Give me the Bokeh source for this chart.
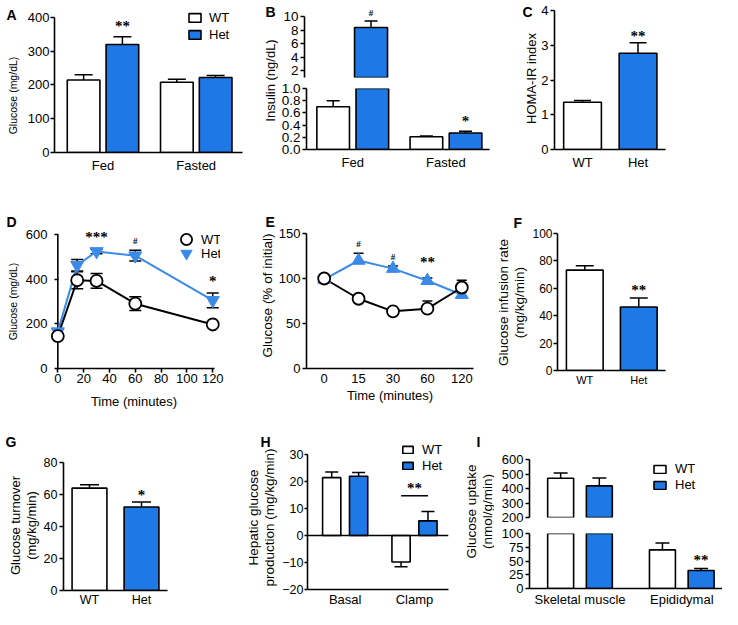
from bokeh.plotting import figure
from bokeh.models import (Range1d, FixedTicker, Whisker, TeeHead, ColumnDataSource, LabelSet, Label,
                          Legend, LegendItem, Span, NumeralTickFormatter)
from bokeh.layouts import row, column
from bokeh.embed import file_html
from bokeh.resources import INLINE
import math

FONT = "Liberation Sans"
BLUE = "#1E78E6"
LBLUE = "#3A8BE8"

# ---------------- data ----------------
a_groups = ["Fed", "Fasted"]
a_wt = [215, 208]
a_wt_err = [15, 9]
a_het = [320, 222]
a_het_err = [23, 6]
a_ticks = [0, 100, 200, 300, 400]

b_groups = ["Fed", "Fasted"]
b_wt = [0.70, 0.21]
b_wt_err = [0.10, 0.012]
b_het = [8.4, 0.27]
b_het_err = [0.95, 0.03]
b_top_ticks = [2, 4, 6, 8, 10]
b_bot_ticks = [0.0, 0.2, 0.4, 0.6, 0.8, 1.0]

c_groups = ["WT", "Het"]
c_vals = [1.36, 2.77]
c_err = [0.05, 0.30]
c_ticks = [0, 1, 2, 3, 4]

d_time = [0, 15, 30, 60, 120]
d_wt = [145, 395, 392, 290, 197]
d_wt_err = [10, 38, 33, 31, 8]
d_het = [165, 462, 524, 505, 305]
d_het_err = [10, 26, 10, 24, 33]
d_xticks = [0, 20, 40, 60, 80, 100, 120]
d_yticks = [0, 200, 400, 600]

e_time = ["0", "15", "30", "60", "120"]
e_wt = [100, 77.5, 63.5, 66.5, 90]
e_wt_err = [2, 2.5, 2.5, 8.5, 8]
e_het = [99, 120, 111, 97.5, 82]
e_het_err = [2, 8, 3, 3, 3]
e_yticks = [0, 50, 100, 150]

f_groups = ["WT", "Het"]
f_vals = [73.3, 46.3]
f_err = [3.1, 6.6]
f_ticks = [0, 20, 40, 60, 80, 100]

g_groups = ["WT", "Het"]
g_vals = [64.0, 52.2]
g_err = [2.1, 3.1]
g_ticks = [0, 20, 40, 60, 80]

h_groups = ["Basal", "Clamp"]
h_wt = [21.4, -9.8]
h_wt_err = [2.1, 1.8]
h_het = [21.9, 5.4]
h_het_err = [1.4, 3.5]
h_sig_line = 14.7
h_ticks = [-20, -10, 0, 10, 20, 30]

i_groups = ["Skeletal muscle", "Epididymal"]
i_wt = [471, 70.2]
i_wt_err = [36, 12.4]
i_het = [418, 32.6]
i_het_err = [55, 3.9]
i_top_ticks = [200, 300, 400, 500, 600]
i_bot_ticks = [0, 25, 50, 75, 100]


# ---------------- helpers ----------------
def no_align(p):
    try:
        p.frame_align = False
    except Exception:
        pass


def style_axis(ax, size="13px", tick_out=4, standoff=2):
    ax.axis_line_width = 1.6
    ax.axis_line_color = "black"
    ax.major_tick_line_width = 1.6
    ax.major_tick_line_color = "black"
    ax.major_tick_out = tick_out
    ax.major_tick_in = 0
    ax.minor_tick_line_color = None
    ax.major_label_text_font = FONT
    ax.major_label_text_font_size = size
    ax.major_label_text_color = "black"
    ax.major_label_standoff = standoff
    ax.axis_label_text_font = FONT
    ax.axis_label_text_font_style = "normal"
    ax.axis_label_text_color = "black"


def make_fig(w, h, xr, yr, mb, xaxis=True, yaxis=True):
    l, r, t, b = mb
    p = figure(width=w, height=h, x_range=Range1d(*xr), y_range=Range1d(*yr),
               output_backend="svg", toolbar_location=None,
               x_axis_location="below" if xaxis else None,
               y_axis_location="left" if yaxis else None,
               min_border_left=l, min_border_right=r, min_border_top=t, min_border_bottom=b)
    no_align(p)
    p.outline_line_color = None
    p.grid.visible = False
    for ax in p.axis:
        style_axis(ax)
    return p


def strip(w, h, letter_text, lx, ly, label_text, cx, cy, label_size):
    p = figure(width=w, height=h, x_range=Range1d(0, 1), y_range=Range1d(0, 1),
               output_backend="svg", toolbar_location=None,
               x_axis_location=None, y_axis_location=None, min_border=0)
    no_align(p)
    p.outline_line_color = None
    p.grid.visible = False
    p.add_layout(Label(x=lx, y=ly, x_units="screen", y_units="screen", text=letter_text,
                       text_font=FONT, text_font_size="14px", text_font_style="bold",
                       text_baseline="top", text_align="left", text_color="black"))
    p.add_layout(Label(x=cx, y=cy, x_units="screen", y_units="screen", text=label_text,
                       text_font=FONT, text_font_size=label_size, text_baseline="middle",
                       text_align="center", angle=math.pi / 2, text_color="black",
                       text_line_height=1.05))
    return p


def yaxis_setup(p, ticks, size="13px", fmt=None, bounds=None, standoff=2, tick_out=4):
    ax = p.yaxis[0]
    ax.ticker = FixedTicker(ticks=ticks)
    style_axis(ax, size=size, standoff=standoff, tick_out=tick_out)
    if fmt:
        ax.formatter = NumeralTickFormatter(format=fmt)
    if bounds:
        ax.bounds = bounds


def cat_xaxis(p, pos, labels, size="13px", standoff=4):
    ax = p.xaxis[0]
    ax.ticker = FixedTicker(ticks=pos)
    ax.major_label_overrides = {pp: lab for pp, lab in zip(pos, labels)}
    style_axis(ax, size=size, tick_out=0, standoff=standoff)
    ax.major_tick_line_color = None


def bars(p, xs, tops, color, width, yr=None):
    if yr is not None:
        keep = [i for i, t in enumerate(tops) if t > yr[0]]
        xs = [xs[i] for i in keep]
        tops = [tops[i] for i in keep]
    return p.vbar(x=xs, top=tops, bottom=0, width=width, fill_color=color,
                  line_color="black", line_width=1.6)


def errbars(p, xs, vals, errs, cap, yr, both=False):
    lo_r, hi_r = yr
    up = {"base": [], "lower": [], "upper": []}
    dn = {"base": [], "lower": [], "upper": []}
    bo = {"base": [], "lower": [], "upper": []}
    for x, v, e in zip(xs, vals, errs):
        if both:
            bo["base"].append(x); bo["lower"].append(v - e); bo["upper"].append(v + e)
        elif v >= 0:
            if lo_r <= v + e <= hi_r:
                up["base"].append(x); up["lower"].append(v); up["upper"].append(v + e)
        else:
            if lo_r <= v - e <= hi_r:
                dn["base"].append(x); dn["lower"].append(v - e); dn["upper"].append(v)

    def head():
        return TeeHead(size=cap, line_width=1.5, line_color="black")

    for d, uh, lh in ((up, True, False), (dn, False, True), (bo, True, True)):
        if d["base"]:
            w = Whisker(source=ColumnDataSource(d), base="base", lower="lower", upper="upper",
                        dimension="height", line_width=1.5, line_color="black",
                        upper_head=head() if uh else None, lower_head=head() if lh else None,
                        level="underlay")
            p.add_layout(w)


def sig(p, xs, ys, texts, gap, size="15px", star=True):
    src = ColumnDataSource(dict(x=xs, y=ys, t=texts))
    p.add_layout(LabelSet(x="x", y="y", text="t", source=src, text_align="center",
                          text_baseline="middle", y_offset=gap if star else gap - 3,
                          text_font=FONT, text_font_size=size, text_font_style="bold",
                          text_color="black"))


def legend(p, items, vx, vy, gw, gh, spacing, standoff=7):
    lg = Legend(items=[LegendItem(label=lab, renderers=[r]) for lab, r in items],
                location=(vx, vy), orientation="vertical", glyph_width=gw, glyph_height=gh,
                label_height=gh, spacing=spacing, padding=0, margin=0,
                label_standoff=standoff, border_line_color=None, background_fill_alpha=0,
                label_text_font=FONT, label_text_font_size="13px", label_text_color="black")
    p.add_layout(lg)


gx = [1, 2]
cx = [1, 2]

# ================= Row 1 =================
sA = strip(24, 200, "A", 6, 194, "Glucose (mg/dL)", 12, 105, "10.5px")
off, bw = 0.208, 0.35
pa = make_fig(224, 200, (0.48, 2.496), (0, 420.7), (28, 6, 10, 48))
axw = [g - off for g in gx]
axh = [g + off for g in gx]
ra_w = bars(pa, axw, a_wt, "white", bw)
ra_h = bars(pa, axh, a_het, BLUE, bw)
errbars(pa, axw, a_wt, a_wt_err, 18, (0, 400))
errbars(pa, axh, a_het, a_het_err, 18, (0, 400))
yaxis_setup(pa, a_ticks, bounds=(0, 400), standoff=1)
cat_xaxis(pa, gx, a_groups, standoff=5)
legend(pa, [("WT", ra_w), ("Het", ra_h)], 133, 110, 15, 11, 2)
sig(pa, [axh[0]], [a_het[0] + a_het_err[0]], ["**"], 11)

sB = strip(30, 200, "B", 17, 197, "Insulin (ng/dL)", 22, 120, "13px")
boff, bbw = 0.21, 0.35
bxw = [g - boff for g in gx]
bxh = [g + boff for g in gx]
pb_top = make_fig(212, 82, (0.504, 2.467), (1, 11.8), (26, 1, 4, 5), xaxis=False)
pb_bot = make_fig(212, 118, (0.504, 2.467), (0, 1), (26, 1, 6, 51))
for pp, yr in ((pb_top, (1, 11.8)), (pb_bot, (0, 1))):
    bars(pp, bxw, b_wt, "white", bbw, yr)
    bars(pp, bxh, b_het, BLUE, bbw, yr)
    errbars(pp, bxw, b_wt, b_wt_err, 13, yr)
    errbars(pp, bxh, b_het, b_het_err, 13, yr)
yaxis_setup(pb_top, b_top_ticks, size="13.5px", bounds=(1, 10))
yaxis_setup(pb_bot, b_bot_ticks, size="13.5px", fmt="0.0")
cat_xaxis(pb_bot, gx, b_groups, standoff=5)
sig(pb_top, [bxh[0]], [b_het[0] + b_het_err[0]], ["#"], 11, size="9px", star=False)
sig(pb_bot, [bxh[1]], [b_het[1] + b_het_err[1]], ["*"], 10)

sC = strip(48, 200, "C", 32, 197, "HOMA-IR index", 41, 122, "13px")
pc = make_fig(184, 200, (0.495, 2.495), (0, 4), (16, 57, 10, 51))
pc.vbar(x=cx, top=c_vals, bottom=0, width=0.68, fill_color=["white", BLUE],
        line_color="black", line_width=1.6)
errbars(pc, cx, c_vals, c_err, 17, (0, 4))
yaxis_setup(pc, c_ticks)
cat_xaxis(pc, cx, c_groups, standoff=5)
sig(pc, [cx[1]], [c_vals[1] + c_err[1]], ["**"], 7)

# ================= Row 2 =================
sD = strip(22, 218, "D", 6, 205, "Glucose (mg/dL)", 12, 117, "10.5px")
pd_ = make_fig(218, 218, (-8, 126), (0, 622), (17, 20, 29, 50))
pd_.xaxis.bounds = (0, 121)
yaxis_setup(pd_, d_yticks, bounds=(0, 600), standoff=0)
# y-axis drawn at time 0 (inside the frame) so that the first markers are not cut
dy = pd_.yaxis[0]
dy.major_tick_out = -7
dy.major_tick_in = 11
dy.axis_line_color = None
pd_.segment(x0=[d_time[0]], y0=[d_yticks[0]], x1=[d_time[0]], y1=[d_yticks[-1]],
            line_color="black", line_width=1.6)
pd_.xaxis.ticker = FixedTicker(ticks=d_xticks)
pd_.xaxis.axis_label = "Time (minutes)"
pd_.xaxis.axis_label_text_font_size = "13px"
pd_.xaxis.axis_label_standoff = 8
pd_.xaxis.major_label_standoff = 1
errbars(pd_, d_time, d_wt, d_wt_err, 12, (0, 622), both=True)
errbars(pd_, d_time, d_het, d_het_err, 12, (0, 622), both=True)
pd_.line(d_time, d_het, line_color=LBLUE, line_width=2)
pd_.line(d_time, d_wt, line_color="black", line_width=2)
rd_h = pd_.scatter(d_time, d_het, marker="inverted_triangle", size=13, fill_color=LBLUE,
                   line_color=LBLUE, line_width=1)
rd_w = pd_.scatter(d_time, d_wt, marker="circle", size=12, fill_color="white",
                   line_color="black", line_width=1.8)
legend(pd_, [("WT", rd_w)], 125, 115, 28, 28, 0, standoff=1)
legend(pd_, [("Het", rd_h)], 125, 101, 28, 28, 0, standoff=1)
sig(pd_, [30, 120], [d_het[2] + d_het_err[2], d_het[4] + d_het_err[4]], ["***", "*"], 12)
sig(pd_, [60], [d_het[3] + d_het_err[3]], ["#"], 12, size="9px", star=False)

sE = strip(35, 218, "E", 25, 205, "Glucose (% of initial)", 27, 123, "13.5px")
ex = list(range(len(e_time)))
pe = make_fig(215, 218, (-0.514, 4.34), (0, 150), (28, 17, 33, 50))
yaxis_setup(pe, e_yticks)
cat_xaxis(pe, ex, e_time, standoff=5)
pe.xaxis.axis_label = "Time (minutes)"
pe.xaxis.axis_label_text_font_size = "13px"
pe.xaxis.axis_label_standoff = 2
errbars(pe, ex, e_wt, e_wt_err, 10, (0, 150))
errbars(pe, ex, e_het, e_het_err, 10, (0, 150))
pe.line(ex, e_het, line_color=LBLUE, line_width=2)
pe.line(ex, e_wt, line_color="black", line_width=2)
pe.scatter(ex, e_het, marker="triangle", size=13, fill_color=LBLUE, line_color=LBLUE, line_width=1)
pe.scatter(ex, e_wt, marker="circle", size=12, fill_color="white", line_color="black", line_width=1.8)
sig(pe, [ex[1], ex[2]], [e_het[1] + e_het_err[1], e_het[2] + e_het_err[2]], ["#", "#"], 12,
    size="9px", star=False)
sig(pe, [ex[3]], [e_het[3] + e_het_err[3]], ["**"], 16)

sF = strip(39, 218, "F", 23, 204, "Glucose infusion rate\n(mg/kg/min)", 21, 116, "13.5px")
pf = make_fig(193, 218, (0.495, 2.495), (0, 100), (25, 57, 33, 48))
pf.vbar(x=cx, top=f_vals, bottom=0, width=0.68, fill_color=["white", BLUE],
        line_color="black", line_width=1.6)
errbars(pf, cx, f_vals, f_err, 18, (0, 100))
yaxis_setup(pf, f_ticks, size="12px", standoff=1)
cat_xaxis(pf, cx, f_groups, size="11px", standoff=3)
sig(pf, [cx[1]], [f_vals[1] + f_err[1]], ["**"], 8)

# ================= Row 3 =================
sG = strip(40, 191, "G", 5, 176, "Glucose turnover\n(mg/kg/min)", 23, 84, "13px")
pg = make_fig(203, 191, (0.5, 2.5), (0, 80), (23, 76, 44, 18))
pg.vbar(x=cx, top=g_vals, bottom=0, width=0.67, fill_color=["white", BLUE],
        line_color="black", line_width=1.6)
errbars(pg, cx, g_vals, g_err, 19, (0, 80))
yaxis_setup(pg, g_ticks, size="12.5px")
cat_xaxis(pg, cx, g_groups, size="12.5px", standoff=2)
sig(pg, [cx[1]], [g_vals[1] + g_err[1]], ["*"], 7)

sH = strip(36, 191, "H", 17, 176, "Hepatic glucose\nproduction (mg/kg/min)", 18, 92, "13.5px")
hoff, hbw = 0.194, 0.263
hxw = [g - hoff for g in gx]
hxh = [g + hoff for g in gx]
ph = make_fig(185, 191, (0.457, 2.49), (-20, 34.4), (22, 16, 24, 18))
ph.add_layout(Span(location=0, dimension="width", line_color="black", line_width=1.6))
rh_w = bars(ph, hxw, h_wt, "white", hbw)
rh_h = bars(ph, hxh, h_het, BLUE, hbw)
errbars(ph, hxw, h_wt, h_wt_err, 13, (-20, 34.4))
errbars(ph, hxh, h_het, h_het_err, 13, (-20, 34.4))
yaxis_setup(ph, h_ticks, size="12.5px", bounds=(-20, 30), tick_out=3, standoff=1)
cat_xaxis(ph, gx, h_groups, standoff=2)
ph.segment(x0=[hxw[1]], y0=[h_sig_line], x1=[hxh[1]], y1=[h_sig_line],
           line_color="black", line_width=1.5)
sig(ph, [(hxw[1] + hxh[1]) / 2], [h_sig_line], ["**"], 8)
legend(ph, [("WT", rh_w), ("Het", rh_h)], 94, 116, 13, 9, 1, standoff=8)

sI = strip(30, 191, "I", 12, 176, "Glucose uptake\n(nmol/g/min)", 15, 98, "13.5px")
ioff, ibw = 0.19, 0.255
ixw = [g - ioff for g in gx]
ixh = [g + ioff for g in gx]
pi_top = make_fig(228, 107, (0.504, 2.40), (200, 600), (35, 0, 41, 8), xaxis=False)
pi_bot = make_fig(228, 84, (0.504, 2.40), (0, 100), (35, 0, 8, 19))
ri = {}
for pp, yr in ((pi_top, (200, 600)), (pi_bot, (0, 100))):
    ri[pp] = (bars(pp, ixw, i_wt, "white", ibw, yr), bars(pp, ixh, i_het, BLUE, ibw, yr))
    errbars(pp, ixw, i_wt, i_wt_err, 14, yr)
    errbars(pp, ixh, i_het, i_het_err, 14, yr)
yaxis_setup(pi_top, i_top_ticks)
yaxis_setup(pi_bot, i_bot_ticks)
cat_xaxis(pi_bot, gx, i_groups, standoff=3)
legend(pi_top, [("WT", ri[pi_top][0]), ("Het", ri[pi_top][1])], 123, 25, 15, 10, 1, standoff=8)
sig(pi_bot, [ixh[1]], [i_het[1] + i_het_err[1]], ["**"], 8)

# ---------------- layout ----------------
row1 = row(sA, pa, sB, column(pb_top, pb_bot), sC, pc)
row2 = row(sD, pd_, sE, pe, sF, pf)
row3 = row(sG, pg, sH, ph, sI, column(pi_top, pi_bot))
layout = column(row1, row2, row3)

open("out.html", "w").write(file_html(layout, INLINE))
